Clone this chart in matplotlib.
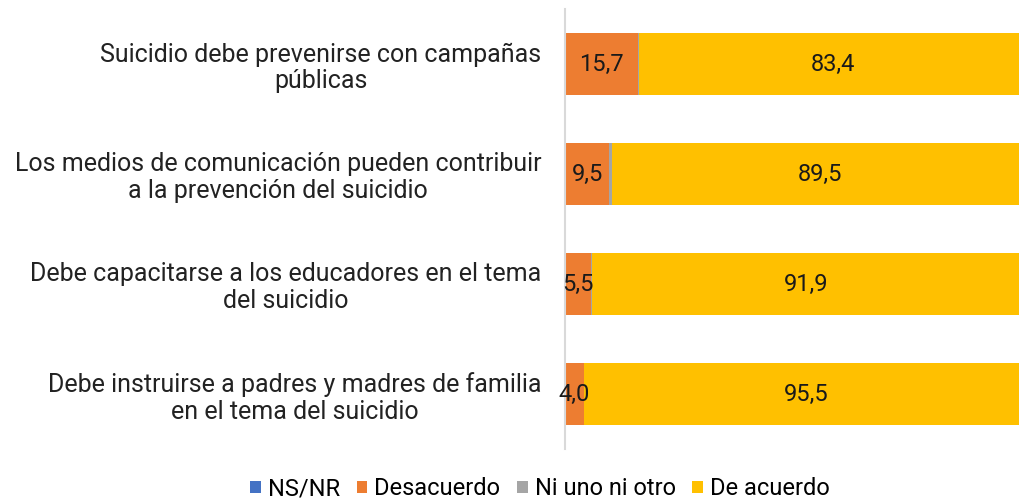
import numpy as np
import matplotlib.pyplot as plt

plt.rcParams['font.family'] = ['Roboto', 'DejaVu Sans']

categories = [
    "Suicidio debe prevenirse con campañas\npúblicas",
    "Los medios de comunicación pueden contribuir\na la prevención del suicidio",
    "Debe capacitarse a los educadores en el tema\ndel suicidio",
    "Debe instruirse a padres y madres de familia\nen el tema del suicidio",
]
series_names = ["NS/NR", "Desacuerdo", "Ni uno ni otro", "De acuerdo"]
ns_nr = [0.0, 0.0, 0.0, 0.0]
desacuerdo = [15.7, 9.5, 5.5, 4.0]
ni_uno = [0.2, 0.6, 0.3, 0.1]
de_acuerdo = [83.4, 89.5, 91.9, 95.5]

colors = ["#4472C4", "#ED7D31", "#A5A5A5", "#FFC000"]
series = [ns_nr, desacuerdo, ni_uno, de_acuerdo]
labelled = [False, True, False, True]

fig = plt.figure(figsize=(10.2, 5.04), dpi=100)
# axes runs past the right edge, the source image is cropped there
ax = fig.add_axes([565/1020, 55/504, 465/1020, 440/504])

y = np.arange(len(categories))
left = np.zeros(len(categories))
for name, vals, col, lab in zip(series_names, series, colors, labelled):
    vals = np.array(vals)
    bars = ax.barh(y, vals, left=left, height=0.56, color=col, label=name)
    if lab:
        labels = [f"{v:.1f}".replace(".", ",") for v in vals]
        ax.bar_label(bars, labels=labels, label_type='center',
                     fontsize=17, color='#1a1a1a')
    left += vals

ax.set_xlim(0, 100)
ax.set_ylim(3.5, -0.5)
ax.set_yticks(y)
ax.set_yticklabels(categories, fontsize=18, color='#222222')
for t in ax.get_yticklabels():
    t.set_multialignment('center')
    t.set_linespacing(1.15)
ax.tick_params(axis='y', length=0, pad=17)
ax.set_xticks([])
for s in ['top', 'right', 'bottom']:
    ax.spines[s].set_visible(False)
ax.spines['left'].set_color('#d9d9d9')
ax.spines['left'].set_linewidth(1.5)

fig.legend(loc='lower center', bbox_to_anchor=(540/1020, -0.035), ncol=4,
           frameon=False, fontsize=17, handlelength=0.45, handleheight=0.45,
           handletextpad=0.3, columnspacing=0.7)

fig.savefig("out.png", dpi=100)
